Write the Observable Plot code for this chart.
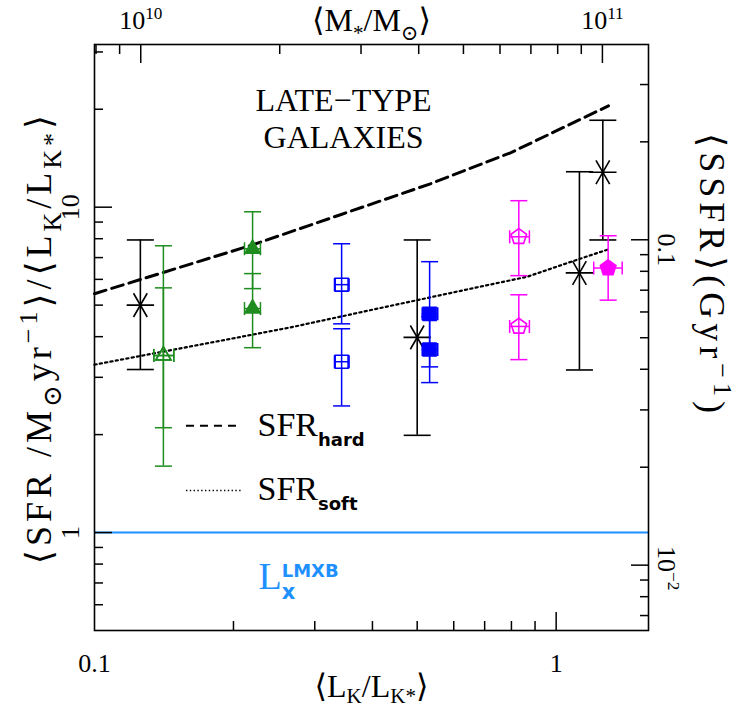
<!DOCTYPE html>
<html><head><meta charset="utf-8">
<script src="https://cdn.jsdelivr.net/npm/d3@7"></script>
<script src="https://cdn.jsdelivr.net/npm/@observablehq/plot@0.6"></script>
<style>body{margin:0;background:#fff}</style>
</head><body>
<script>
// ---------------- DATA ----------------
// Black asterisks (full late-type sample bins)
const starL   = [0.1257, 0.50, 1.123, 1.262];
const starSFR = [5.00, 3.98, 6.28, 12.8];
const starLo  = [3.17, 1.99, 3.16, 7.93];
const starHi  = [7.93, 7.93, 12.85, 18.5];

// Coloured sub-samples
const subColor  = ["green","green","green","green","blue","blue","blue","blue","magenta","magenta","magenta"];
const subShape  = ["triangle","triangle","triangle","triangle","square","square","square","square","pentagon","pentagon","pentagon"];
const subFilled = [false,false,true,true,false,false,true,true,false,false,true];
const subL   = [0.141,0.141,0.22,0.22,0.343,0.343,0.532,0.532,0.83,0.83,1.296];
const subLlo = [0.1344,0.1344,0.2113,0.2113,0.331,0.331,0.5127,0.5127,0.793,0.793,1.206];
const subLhi = [0.1485,0.1485,0.2288,0.2288,0.356,0.356,0.554,0.554,0.875,0.875,1.39];
const subSFR = [3.50,3.50,7.45,4.88,5.78,3.35,4.70,3.65,8.11,4.30,6.50];
const subLo  = [1.60,2.10,5.62,3.70,4.38,2.45,3.23,2.89,6.16,3.40,5.18];
const subHi  = [7.61,5.65,9.68,6.25,7.72,4.23,6.80,4.61,10.47,5.38,8.17];

// Model curves
const hardL = [0.1, 0.22, 0.341, 0.534, 0.796, 1.298];
const hardY = [5.42, 7.66, 9.48, 11.80, 14.69, 20.48];
const softL = [0.1, 0.2657, 0.4164, 0.6855, 0.865, 1.092, 1.290];
const softY = [3.28, 4.27, 4.90, 5.70, 6.11, 6.84, 7.40];

// LMXB level
const lmxbLevel = [1];

// Ticks and labels
const xMajor = [0.1, 1], xMajorLabels = ["0.1", "1"];
const xMinor = [0.2,0.3,0.4,0.5,0.6,0.7,0.8,0.9];
const yMajor = [1, 10], yMajorLabels = ["1", "10"];
const yMinor = [0.6,0.7,0.8,0.9,2,3,4,5,6,7,8,9,20,30];
const massMajor = [1e10, 1e11], massLabels = ["10^{10}", "10^{11}"];
const massMinor = [8e9,9e9,2e10,3e10,4e10,5e10,6e10,7e10,8e10,9e10];
const ssfrMajor = [0.1, 0.01], ssfrLabels = ["0.1", "10^{−2}"];
const ssfrMinor = [0.007,0.008,0.009,0.02,0.03,0.04,0.05,0.06,0.07,0.08,0.09,0.2,0.3];
const massToLight = 7.94e10;       // M_sun per L_K*
const ssfrToY = massToLight / 1e9; // Gyr^-1 -> SFR/L_K ratio

// Legend keys (annotation layout)
const legendKeys = [
  {name: "hard", x1: 0.1582, x2: 0.2083, y: 2.13},
  {name: "soft", x1: 0.1582, x2: 0.2083, y: 1.346}
];

// ---------------- STYLE ----------------
const serif = "'Liberation Serif', 'DejaVu Serif', serif";
const sans = "'DejaVu Sans', 'Liberation Sans', sans-serif";
const colorOf = {green: "#1e8c1e", blue: "#0000ff", magenta: "#ff00ff"};
const lmxbColor = "#1e90ff";

const hcap = {draw(ctx, size) { const r = Math.sqrt(size / Math.PI); ctx.moveTo(-r, 0); ctx.lineTo(r, 0); }};
const vcap = {draw(ctx, size) { const r = Math.sqrt(size / Math.PI); ctx.moveTo(0, -r); ctx.lineTo(0, r); }};
const pentagon = {draw(ctx, size) {
  const r = Math.sqrt(size / Math.PI);
  for (let k = 0; k < 5; k++) {
    const a = -Math.PI / 2 + k * 2 * Math.PI / 5;
    const x = r * Math.cos(a), y = r * Math.sin(a);
    if (k) ctx.lineTo(x, y); else ctx.moveTo(x, y);
  }
  ctx.closePath();
}};
const shapeSym = {triangle: "triangle", square: "square", pentagon};
const shapeR = {triangle: 5.6, square: 7.3, pentagon: 8.2};

// ---------------- TABLES ----------------
const stars = starL.map((L, i) => ({L, v: starSFR[i], lo: starLo[i], hi: starHi[i]}));
const subs = subL.map((L, i) => ({L, v: subSFR[i], lo: subLo[i], hi: subHi[i],
  xlo: subLlo[i], xhi: subLhi[i], c: colorOf[subColor[i]], shape: subShape[i], filled: subFilled[i]}));
const hard = hardL.map((L, i) => ({L, v: hardY[i]}));
const soft = softL.map((L, i) => ({L, v: softY[i]}));

function markerMarks() {
  const out = [];
  for (const shape of ["triangle", "square", "pentagon"]) {
    for (const filled of [false, true]) {
      const d = subs.filter(s => s.shape === shape && s.filled === filled);
      if (!d.length) continue;
      out.push(Plot.dot(d, {x: "L", y: "v", symbol: shapeSym[shape], r: shapeR[shape],
        stroke: "c", fill: filled ? "c" : "none", strokeWidth: 1.6}));
    }
  }
  return out;
}

const tickLen = 18, minorLen = 9;
const tk = {stroke: "black", strokeWidth: 1.5, label: null, tickFormat: () => ""};
const T = {lineAnchor: "middle"};

const plot = Plot.plot({
  width: 748, height: 709,
  marginLeft: 94, marginRight: 100, marginTop: 44, marginBottom: 79,
  x: {type: "log", domain: [0.1, Math.pow(10, 0.2)], label: null},
  y: {type: "log", domain: [0.5, Math.pow(10, 1.5)], label: null},
  color: {type: "identity"},
  style: {fontFamily: serif, background: "white", color: "black"},
  marks: [
    Plot.ruleY(lmxbLevel, {stroke: lmxbColor, strokeWidth: 2}),
    Plot.line(hard, {x: "L", y: "v", stroke: "black", strokeWidth: 3, strokeDasharray: "12,6"}),
    Plot.line(soft, {x: "L", y: "v", stroke: "black", strokeWidth: 2.2, strokeDasharray: "2.2,3.2"}),
    Plot.ruleY(legendKeys.filter(d => d.name === "hard"), {y: "y", x1: "x1", x2: "x2", stroke: "black", strokeWidth: 2, strokeDasharray: "8,6"}),
    Plot.ruleY(legendKeys.filter(d => d.name === "soft"), {y: "y", x1: "x1", x2: "x2", stroke: "black", strokeWidth: 1.5, strokeDasharray: "1.4,2.4"}),

    // black points
    Plot.ruleX(stars, {x: "L", y1: "lo", y2: "hi", stroke: "black", strokeWidth: 1.6}),
    Plot.dot(stars, {x: "L", y: "lo", symbol: hcap, r: 13.5, stroke: "black", fill: "none", strokeWidth: 1.6}),
    Plot.dot(stars, {x: "L", y: "hi", symbol: hcap, r: 13.5, stroke: "black", fill: "none", strokeWidth: 1.6}),
    Plot.dot(stars, {x: "L", y: "v", symbol: "asterisk", r: 13, rotate: 90, stroke: "black", strokeWidth: 1.6}),

    // coloured points
    Plot.ruleX(subs, {x: "L", y1: "lo", y2: "hi", stroke: "c", strokeWidth: 1.5}),
    Plot.dot(subs, {x: "L", y: "lo", symbol: hcap, r: 8.5, stroke: "c", fill: "none", strokeWidth: 1.5}),
    Plot.dot(subs, {x: "L", y: "hi", symbol: hcap, r: 8.5, stroke: "c", fill: "none", strokeWidth: 1.5}),
    Plot.ruleY(subs, {y: "v", x1: "xlo", x2: "xhi", stroke: "c", strokeWidth: 1.5}),
    Plot.dot(subs, {x: "xlo", y: "v", symbol: vcap, r: 6.5, stroke: "c", fill: "none", strokeWidth: 1.5}),
    Plot.dot(subs, {x: "xhi", y: "v", symbol: vcap, r: 6.5, stroke: "c", fill: "none", strokeWidth: 1.5}),
    ...markerMarks(),

    // inward ticks
    Plot.axisX(xMinor, {...tk, anchor: "bottom", tickSize: minorLen, dy: -minorLen}),
    Plot.axisX([1], {...tk, anchor: "bottom", tickSize: tickLen, dy: -tickLen}),
    Plot.axisY(yMinor, {...tk, anchor: "left", tickSize: minorLen, dx: minorLen}),
    Plot.axisY(yMajor, {...tk, anchor: "left", tickSize: tickLen, dx: tickLen}),
    Plot.axisX(massMinor.map(m => m / massToLight), {...tk, anchor: "top", tickSize: minorLen, dy: minorLen}),
    Plot.axisX(massMajor.map(m => m / massToLight), {...tk, anchor: "top", tickSize: tickLen, dy: tickLen}),
    Plot.axisY(ssfrMinor.map(s => s * ssfrToY), {...tk, anchor: "right", tickSize: minorLen, dx: -minorLen}),
    Plot.axisY(ssfrMajor.map(s => s * ssfrToY), {...tk, anchor: "right", tickSize: tickLen, dx: -tickLen}),

    // tick labels
    Plot.text(xMajor, {...T, x: d => d, frameAnchor: "bottom", dy: 33, text: (d, i) => xMajorLabels[i], fontSize: 26, textAnchor: "middle"}),
    Plot.text(yMajor, {...T, y: d => d, frameAnchor: "left", dx: -24, rotate: -90, text: (d, i) => yMajorLabels[i], fontSize: 26, textAnchor: "middle"}),
    Plot.text(massMajor, {...T, x: d => d / massToLight, frameAnchor: "top", dy: -24, text: (d, i) => massLabels[i], fontSize: 26, textAnchor: "middle"}),
    Plot.text(ssfrMajor.slice(0, 1), {...T, y: d => d * ssfrToY, frameAnchor: "right", dx: 18, dy: 10, rotate: 90, text: (d, i) => ssfrLabels[i], fontSize: 26, textAnchor: "middle"}),
    Plot.text(ssfrMajor.slice(1), {...T, y: d => d * ssfrToY, frameAnchor: "right", dx: 18, dy: 3, rotate: 90, text: (d, i) => ssfrLabels[i + 1], fontSize: 26, textAnchor: "middle"}),

    // axis titles
    Plot.text(["⟨L_:0.2{K}/L_:0.2{K*}⟩"], {...T, text: d => d, frameAnchor: "bottom", dy: 56, fontSize: 32, textAnchor: "middle"}),
    Plot.text(["⟨M_{*}/M_{⊙}⟩"], {...T, text: d => d, frameAnchor: "top", dy: -24, fontSize: 32, textAnchor: "middle"}),
    Plot.text(["~4~⟨SFR /M_26{⊙}yr^26{−1}⟩/⟨L_26{K}/L_26{K*}⟩"], {...T, text: d => d, frameAnchor: "left", dx: -55, rotate: -90, fontSize: 36, textAnchor: "middle"}),
    Plot.text(["~5~⟨SSFR⟩(Gyr^26{−1})"], {...T, text: d => d, frameAnchor: "right", dx: 63, dy: -62, rotate: 90, fontSize: 36, textAnchor: "middle"}),

    // annotations
    Plot.text(["LATE−TYPE"], {...T, text: d => d, frameAnchor: "top", dx: -28, dy: 56, fontSize: 32, textAnchor: "middle"}),
    Plot.text(["GALAXIES"], {...T, text: d => d, frameAnchor: "top", dx: -28, dy: 93, fontSize: 32, textAnchor: "middle"}),
    Plot.text(["SFR_b18{hard}"], {...T, text: d => d, frameAnchor: "top-left", dx: 163, dy: 381, fontSize: 34, textAnchor: "start"}),
    Plot.text(["SFR_b18{soft}"], {...T, text: d => d, frameAnchor: "top-left", dx: 163, dy: 445, fontSize: 34, textAnchor: "start"}),
    Plot.text(["L_b21:0.27{x}^b18:0.3{LMXB}"], {...T, text: d => d, frameAnchor: "top-left", dx: 164, dy: 532, fontSize: 38, textAnchor: "start", fill: lmxbColor}),

    Plot.frame({stroke: "black", strokeWidth: 1.6})
  ]
});

document.body.appendChild(plot);

// rich text: optional ~N~ letter spacing prefix; _{sub} ^{sup}, optional b (bold sans), size px, :shift em
function richify(root) {
  root.querySelectorAll("text").forEach(el => {
    let src = el.textContent;
    const ls = /^~(\d+(?:\.\d+)?)~/.exec(src);
    if (ls) { src = src.slice(ls[0].length); el.setAttribute("letter-spacing", ls[1]); el.textContent = src; }
    if (!/[_^]b?\d*(?::[\d.]+)?\{/.test(src)) return;
    const base = parseFloat(getComputedStyle(el).fontSize);
    const re = /([_^])(b?)(\d*)(?::([\d.]+))?\{([^}]*)\}/g;
    const parts = []; let last = 0, m;
    while ((m = re.exec(src))) {
      if (m.index > last) parts.push({s: src.slice(last, m.index), k: ""});
      parts.push({s: m[5], k: m[1], b: m[2] === "b", size: m[3] ? +m[3] : null, sh: m[4] ? +m[4] : null});
      last = re.lastIndex;
    }
    if (last < src.length) parts.push({s: src.slice(last), k: ""});
    el.textContent = "";
    let shift = 0, prev = null;
    for (const p of parts) {
      const t = document.createElementNS("http://www.w3.org/2000/svg", "tspan");
      t.textContent = p.s;
      let target = 0;
      if (p.k === "_") target = base * (p.sh ?? 0.28);
      if (p.k === "^") target = -base * (p.sh ?? 0.38);
      t.setAttribute("dy", (target - shift).toFixed(2));
      shift = target;
      if (p.k) {
        t.setAttribute("font-size", (p.size ?? base * 0.66).toFixed(1));
        if (p.b) { t.setAttribute("font-family", sans); t.setAttribute("font-weight", "bold"); }
      }
      if (p.k === "^" && prev && prev.k === "_") t.setAttribute("dx", (-prev.w).toFixed(2));
      el.appendChild(t);
      p.w = t.getComputedTextLength();
      prev = p;
    }
  });
}
richify(plot);
</script>
</body></html>
